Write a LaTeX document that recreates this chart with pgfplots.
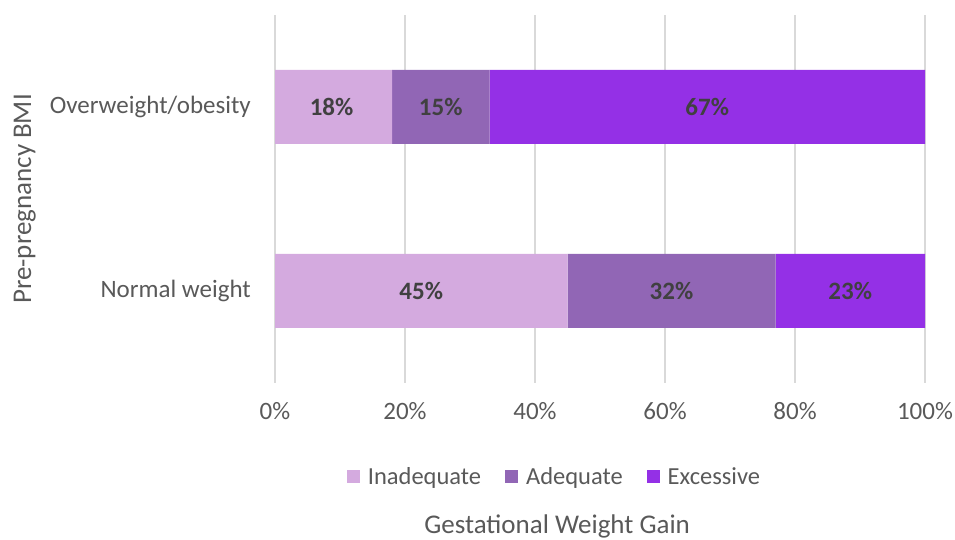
\documentclass[border=0pt]{standalone}
\usepackage{pgfplots}
\usepackage{pgfplotstable}
\pgfplotsset{compat=1.18}
\usepackage{fontspec}
\setmainfont{Carlito}
\definecolor{cInad}{HTML}{D4AADF}
\definecolor{cAdeq}{HTML}{9166B5}
\definecolor{cExc}{HTML}{9430E6}
\definecolor{txt}{HTML}{595959}
\definecolor{lbl}{HTML}{404040}
\definecolor{gridc}{HTML}{D9D9D9}

\pgfplotstableread{
y inad adeq exc
0 45 32 23
1 18 15 67
}\data

\pgfplotstableread{
x y v
22.5 0 45
61 0 32
88.5 0 23
8.7 1 18
25.5 1 15
66.5 1 67
}\labels

\begin{document}
\begin{tikzpicture}
\useasboundingbox (0,0) rectangle (955pt,540pt);
\begin{axis}[
  at={(275pt,157pt)}, anchor=south west,
  scale only axis, width=650pt, height=368pt,
  xbar stacked, bar width=74pt,
  xmin=0, xmax=100, ymin=-0.5, ymax=1.5,
  xtick={0,20,40,60,80,100},
  xticklabel={\pgfmathprintnumber{\tick}\%},
  /pgf/number format/assume math mode=true,
  ytick={0,1},
  yticklabels={Normal weight, Overweight/obesity},
  major tick length=0pt,
  axis line style={draw=none},
  xmajorgrids, grid style={gridc, line width=1.5pt},
  ticklabel style={font=\fontsize{25}{30}\selectfont, text=txt},
  xticklabel style={inner sep=0pt, yshift=-19pt},
  yticklabel style={inner sep=0pt, xshift=-24pt},
  xlabel={Gestational Weight Gain},
  xlabel style={at={(axis description cs:0.434,-0.391)}, anchor=center, font=\fontsize{27}{30}\selectfont, text=txt},
  ylabel={Pre-pregnancy BMI},
  ylabel style={at={(axis description cs:-0.385,0.5)}, anchor=center, rotate=0, font=\fontsize{27}{30}\selectfont, text=txt},
  legend style={at={(axis description cs:0.43,-0.255)}, anchor=center, draw=none, fill=none,
    legend columns=-1, font=\fontsize{24.5}{28}\selectfont, text=txt,
    /tikz/every odd column/.append style={column sep=6pt},
    /tikz/every even column/.append style={column sep=22pt},
    inner sep=0pt},
  legend image code/.code={\fill[#1] (0pt,-6pt) rectangle (13pt,7pt);},
]
\addplot[fill=cInad, draw=none] table[x=inad, y=y] {\data};
\addlegendentry{Inadequate}
\addplot[fill=cAdeq, draw=none] table[x=adeq, y=y] {\data};
\addlegendentry{Adequate}
\addplot[fill=cExc, draw=none] table[x=exc, y=y] {\data};
\addlegendentry{Excessive}
\end{axis}
\begin{axis}[
  at={(275pt,157pt)}, anchor=south west,
  scale only axis, width=650pt, height=368pt,
  xmin=0, xmax=100, ymin=-0.5, ymax=1.5,
  hide axis,
  /pgf/number format/assume math mode=true,
]
\addplot[draw=none, mark=none, nodes near coords, point meta=explicit,
  nodes near coords={\pgfmathprintnumber{\pgfplotspointmeta}\%},
  every node near coord/.append style={anchor=center, font=\fontsize{25}{30}\selectfont\bfseries, text=lbl}]
  table[x=x, y=y, meta=v] {\labels};
\end{axis}
\end{tikzpicture}
\end{document}
